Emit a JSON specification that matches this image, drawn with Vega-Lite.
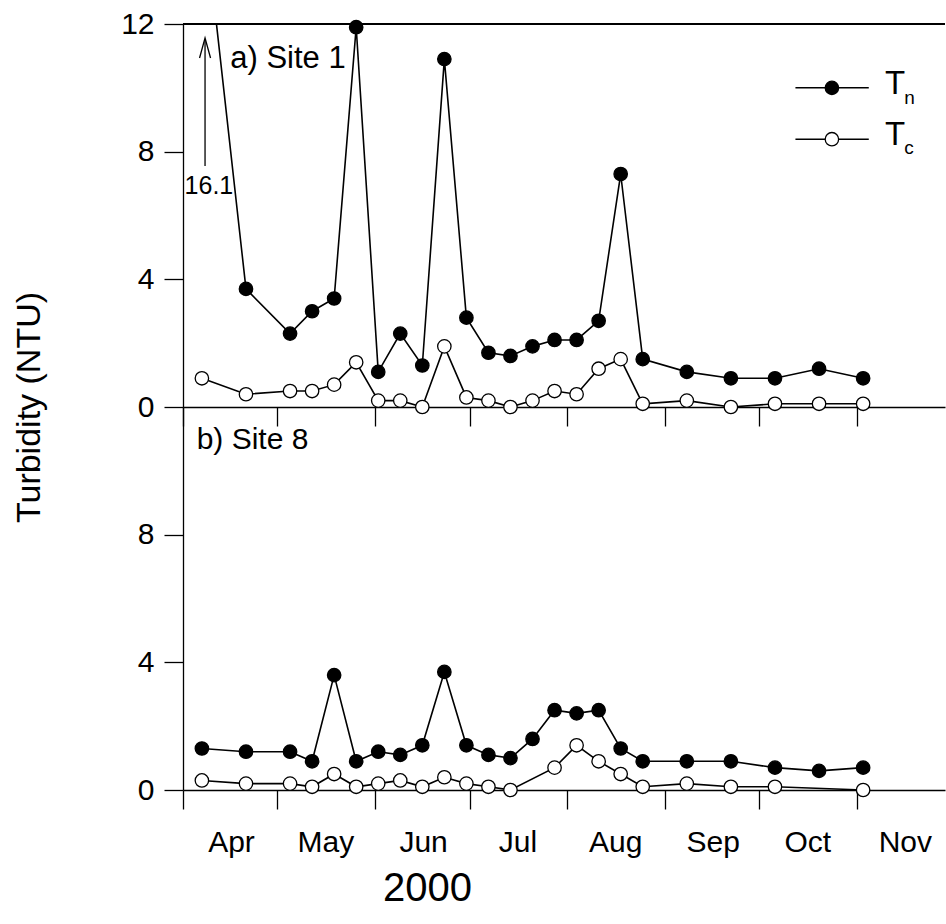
{
  "$schema": "https://vega.github.io/schema/vega-lite/v6.json",
  "background": "white",
  "padding": {"left": 12, "top": 9, "right": 0, "bottom": 5},
  "bounds": "flush",
  "spacing": 0,
  "config": {
    "font": "Liberation Sans",
    "view": {"stroke": null},
    "axis": {"domainColor": "black", "tickColor": "black", "labelColor": "black", "titleColor": "black", "domainWidth": 1.3, "tickWidth": 1.3, "grid": false, "labelFont": "Liberation Sans", "titleFont": "Liberation Sans", "titleFontWeight": "normal"}
  },
  "datasets": {
    "site1": [
      {"date": "2000-04-07", "series": "Tn", "value": 16.1}, {"date": "2000-04-21", "series": "Tn", "value": 3.7}, {"date": "2000-05-05", "series": "Tn", "value": 2.3}, {"date": "2000-05-12", "series": "Tn", "value": 3.0}, {"date": "2000-05-19", "series": "Tn", "value": 3.4}, {"date": "2000-05-26", "series": "Tn", "value": 11.9}, {"date": "2000-06-02", "series": "Tn", "value": 1.1}, {"date": "2000-06-09", "series": "Tn", "value": 2.3}, {"date": "2000-06-16", "series": "Tn", "value": 1.3}, {"date": "2000-06-23", "series": "Tn", "value": 10.9}, {"date": "2000-06-30", "series": "Tn", "value": 2.8}, {"date": "2000-07-07", "series": "Tn", "value": 1.7}, {"date": "2000-07-14", "series": "Tn", "value": 1.6}, {"date": "2000-07-21", "series": "Tn", "value": 1.9}, {"date": "2000-07-28", "series": "Tn", "value": 2.1}, {"date": "2000-08-04", "series": "Tn", "value": 2.1}, {"date": "2000-08-11", "series": "Tn", "value": 2.7}, {"date": "2000-08-18", "series": "Tn", "value": 7.3}, {"date": "2000-08-25", "series": "Tn", "value": 1.5}, {"date": "2000-09-08", "series": "Tn", "value": 1.1}, {"date": "2000-09-22", "series": "Tn", "value": 0.9}, {"date": "2000-10-06", "series": "Tn", "value": 0.9}, {"date": "2000-10-20", "series": "Tn", "value": 1.2}, {"date": "2000-11-03", "series": "Tn", "value": 0.9},
      {"date": "2000-04-07", "series": "Tc", "value": 0.9}, {"date": "2000-04-21", "series": "Tc", "value": 0.4}, {"date": "2000-05-05", "series": "Tc", "value": 0.5}, {"date": "2000-05-12", "series": "Tc", "value": 0.5}, {"date": "2000-05-19", "series": "Tc", "value": 0.7}, {"date": "2000-05-26", "series": "Tc", "value": 1.4}, {"date": "2000-06-02", "series": "Tc", "value": 0.2}, {"date": "2000-06-09", "series": "Tc", "value": 0.2}, {"date": "2000-06-16", "series": "Tc", "value": 0.0}, {"date": "2000-06-23", "series": "Tc", "value": 1.9}, {"date": "2000-06-30", "series": "Tc", "value": 0.3}, {"date": "2000-07-07", "series": "Tc", "value": 0.2}, {"date": "2000-07-14", "series": "Tc", "value": 0.0}, {"date": "2000-07-21", "series": "Tc", "value": 0.2}, {"date": "2000-07-28", "series": "Tc", "value": 0.5}, {"date": "2000-08-04", "series": "Tc", "value": 0.4}, {"date": "2000-08-11", "series": "Tc", "value": 1.2}, {"date": "2000-08-18", "series": "Tc", "value": 1.5}, {"date": "2000-08-25", "series": "Tc", "value": 0.1}, {"date": "2000-09-08", "series": "Tc", "value": 0.2}, {"date": "2000-09-22", "series": "Tc", "value": 0.0}, {"date": "2000-10-06", "series": "Tc", "value": 0.1}, {"date": "2000-10-20", "series": "Tc", "value": 0.1}, {"date": "2000-11-03", "series": "Tc", "value": 0.1}
    ],
    "site8": [
      {"date": "2000-04-07", "series": "Tn", "value": 1.3}, {"date": "2000-04-21", "series": "Tn", "value": 1.2}, {"date": "2000-05-05", "series": "Tn", "value": 1.2}, {"date": "2000-05-12", "series": "Tn", "value": 0.9}, {"date": "2000-05-19", "series": "Tn", "value": 3.6}, {"date": "2000-05-26", "series": "Tn", "value": 0.9}, {"date": "2000-06-02", "series": "Tn", "value": 1.2}, {"date": "2000-06-09", "series": "Tn", "value": 1.1}, {"date": "2000-06-16", "series": "Tn", "value": 1.4}, {"date": "2000-06-23", "series": "Tn", "value": 3.7}, {"date": "2000-06-30", "series": "Tn", "value": 1.4}, {"date": "2000-07-07", "series": "Tn", "value": 1.1}, {"date": "2000-07-14", "series": "Tn", "value": 1.0}, {"date": "2000-07-21", "series": "Tn", "value": 1.6}, {"date": "2000-07-28", "series": "Tn", "value": 2.5}, {"date": "2000-08-04", "series": "Tn", "value": 2.4}, {"date": "2000-08-11", "series": "Tn", "value": 2.5}, {"date": "2000-08-18", "series": "Tn", "value": 1.3}, {"date": "2000-08-25", "series": "Tn", "value": 0.9}, {"date": "2000-09-08", "series": "Tn", "value": 0.9}, {"date": "2000-09-22", "series": "Tn", "value": 0.9}, {"date": "2000-10-06", "series": "Tn", "value": 0.7}, {"date": "2000-10-20", "series": "Tn", "value": 0.6}, {"date": "2000-11-03", "series": "Tn", "value": 0.7},
      {"date": "2000-04-07", "series": "Tc", "value": 0.3}, {"date": "2000-04-21", "series": "Tc", "value": 0.2}, {"date": "2000-05-05", "series": "Tc", "value": 0.2}, {"date": "2000-05-12", "series": "Tc", "value": 0.1}, {"date": "2000-05-19", "series": "Tc", "value": 0.5}, {"date": "2000-05-26", "series": "Tc", "value": 0.1}, {"date": "2000-06-02", "series": "Tc", "value": 0.2}, {"date": "2000-06-09", "series": "Tc", "value": 0.3}, {"date": "2000-06-16", "series": "Tc", "value": 0.1}, {"date": "2000-06-23", "series": "Tc", "value": 0.4}, {"date": "2000-06-30", "series": "Tc", "value": 0.2}, {"date": "2000-07-07", "series": "Tc", "value": 0.1}, {"date": "2000-07-14", "series": "Tc", "value": 0.0}, {"date": "2000-07-28", "series": "Tc", "value": 0.7}, {"date": "2000-08-04", "series": "Tc", "value": 1.4}, {"date": "2000-08-11", "series": "Tc", "value": 0.9}, {"date": "2000-08-18", "series": "Tc", "value": 0.5}, {"date": "2000-08-25", "series": "Tc", "value": 0.1}, {"date": "2000-09-08", "series": "Tc", "value": 0.2}, {"date": "2000-09-22", "series": "Tc", "value": 0.1}, {"date": "2000-10-06", "series": "Tc", "value": 0.1}, {"date": "2000-11-03", "series": "Tc", "value": 0.0}
    ]
  },
  "vconcat": [
    {
      "width": 762,
      "height": 383,
      "data": {"name": "site1"},
      "layer": [
        {
          "mark": {"type": "rule", "color": "black", "strokeWidth": 1.3},
          "encoding": {"y": {"datum": 12, "type": "quantitative", "scale": {"domain": [0, 12], "nice": false}}}
        },
        {
          "mark": {"type": "line", "color": "black", "strokeWidth": 1.6, "clip": true},
          "encoding": {
            "x": {"field": "date", "type": "temporal",
              "scale": {"type": "utc", "domain": [{"year": 2000, "month": 4, "date": 1, "utc": true}, {"year": 2000, "month": 11, "date": 29, "utc": true}]},
              "axis": {"values": [{"year": 2000, "month": 4, "date": 1, "utc": true}, {"year": 2000, "month": 5, "date": 1, "utc": true}, {"year": 2000, "month": 6, "date": 1, "utc": true}, {"year": 2000, "month": 7, "date": 1, "utc": true}, {"year": 2000, "month": 8, "date": 1, "utc": true}, {"year": 2000, "month": 9, "date": 1, "utc": true}, {"year": 2000, "month": 10, "date": 1, "utc": true}, {"year": 2000, "month": 11, "date": 1, "utc": true}], "labels": false, "tickSize": 19, "title": null}},
            "y": {"field": "value", "type": "quantitative", "scale": {"domain": [0, 12], "nice": false},
              "axis": {"values": [0, 4, 8, 12], "tickSize": 19, "labelFontSize": 30, "labelPadding": 10, "title": "Turbidity (NTU)", "titleFontSize": 34, "titlePadding": 74, "titleY": 383}},
            "detail": {"field": "series"}
          }
        },
        {
          "transform": [{"filter": "datum.value <= 12"}],
          "mark": {"type": "point", "shape": "circle", "filled": true, "size": 180, "stroke": "black", "strokeWidth": 1.3, "opacity": 1},
          "encoding": {
            "x": {"field": "date", "type": "temporal"},
            "y": {"field": "value", "type": "quantitative"},
            "fill": {"field": "series", "type": "nominal", "scale": {"domain": ["Tn", "Tc"], "range": ["black", "white"]}, "legend": null}
          }
        },
        {
          "data": {"values": [{"t": "arrow"}]},
          "mark": {"type": "rule", "color": "black", "strokeWidth": 1.3},
          "encoding": {
            "x": {"datum": {"year": 2000, "month": 4, "date": 8, "utc": true}, "type": "temporal"},
            "y": {"datum": 7.55, "type": "quantitative"},
            "y2": {"datum": 11.5}
          }
        },
        {
          "data": {"values": [{"t": "arrow"}]},
          "mark": {"type": "point", "shape": "M-0.55,2L0,0L0.55,2", "size": 400, "filled": false, "stroke": "black", "strokeWidth": 1.3, "opacity": 1},
          "encoding": {
            "x": {"datum": {"year": 2000, "month": 4, "date": 8, "utc": true}, "type": "temporal"},
            "y": {"datum": 11.56, "type": "quantitative"}
          }
        },
        {
          "data": {"values": [{"t": "16.1"}]},
          "mark": {"type": "text", "align": "left", "baseline": "alphabetic", "fontSize": 25, "color": "black"},
          "encoding": {
            "x": {"datum": {"year": 2000, "month": 4, "date": 1, "hours": 12, "utc": true}, "type": "temporal"},
            "y": {"datum": 6.66, "type": "quantitative"},
            "text": {"field": "t"}
          }
        },
        {
          "data": {"values": [{"t": "a) Site 1"}]},
          "mark": {"type": "text", "align": "left", "baseline": "alphabetic", "fontSize": 31, "color": "black"},
          "encoding": {
            "x": {"datum": {"year": 2000, "month": 4, "date": 16, "utc": true}, "type": "temporal"},
            "y": {"datum": 10.61, "type": "quantitative"},
            "text": {"field": "t"}
          }
        },
        {
          "data": {"values": [{"series": "Tn"}]},
          "mark": {"type": "rule", "color": "black", "strokeWidth": 1.5},
          "encoding": {
            "x": {"datum": {"year": 2000, "month": 10, "date": 12, "hours": 12, "utc": true}, "type": "temporal"},
            "x2": {"datum": {"year": 2000, "month": 11, "date": 4, "hours": 19, "utc": true}},
            "y": {"datum": 10.0, "type": "quantitative"}
          }
        },
        {
          "data": {"values": [{"series": "Tc"}]},
          "mark": {"type": "rule", "color": "black", "strokeWidth": 1.5},
          "encoding": {
            "x": {"datum": {"year": 2000, "month": 10, "date": 12, "hours": 12, "utc": true}, "type": "temporal"},
            "x2": {"datum": {"year": 2000, "month": 11, "date": 4, "hours": 19, "utc": true}},
            "y": {"datum": 8.39, "type": "quantitative"}
          }
        },
        {
          "data": {"values": [{"series": "Tn"}]},
          "mark": {"type": "point", "shape": "circle", "filled": true, "size": 180, "stroke": "black", "strokeWidth": 1.3, "opacity": 1},
          "encoding": {
            "x": {"datum": {"year": 2000, "month": 10, "date": 24, "hours": 2, "utc": true}, "type": "temporal"},
            "y": {"datum": 10.0, "type": "quantitative"},
            "fill": {"field": "series", "type": "nominal", "legend": null}
          }
        },
        {
          "data": {"values": [{"series": "Tc"}]},
          "mark": {"type": "point", "shape": "circle", "filled": true, "size": 180, "stroke": "black", "strokeWidth": 1.3, "opacity": 1},
          "encoding": {
            "x": {"datum": {"year": 2000, "month": 10, "date": 24, "hours": 2, "utc": true}, "type": "temporal"},
            "y": {"datum": 8.39, "type": "quantitative"},
            "fill": {"field": "series", "type": "nominal", "legend": null}
          }
        },
        {
          "data": {"values": [{"t": "T"}]},
          "mark": {"type": "text", "align": "left", "baseline": "alphabetic", "fontSize": 33, "color": "black"},
          "encoding": {
            "x": {"datum": {"year": 2000, "month": 11, "date": 9, "hours": 22, "utc": true}, "type": "temporal"},
            "y": {"datum": 9.8, "type": "quantitative"},
            "text": {"field": "t"}
          }
        },
        {
          "data": {"values": [{"t": "n"}]},
          "mark": {"type": "text", "align": "left", "baseline": "alphabetic", "fontSize": 19, "color": "black"},
          "encoding": {
            "x": {"datum": {"year": 2000, "month": 11, "date": 16, "hours": 2, "utc": true}, "type": "temporal"},
            "y": {"datum": 9.48, "type": "quantitative"},
            "text": {"field": "t"}
          }
        },
        {
          "data": {"values": [{"t": "T"}]},
          "mark": {"type": "text", "align": "left", "baseline": "alphabetic", "fontSize": 33, "color": "black"},
          "encoding": {
            "x": {"datum": {"year": 2000, "month": 11, "date": 9, "hours": 22, "utc": true}, "type": "temporal"},
            "y": {"datum": 8.21, "type": "quantitative"},
            "text": {"field": "t"}
          }
        },
        {
          "data": {"values": [{"t": "c"}]},
          "mark": {"type": "text", "align": "left", "baseline": "alphabetic", "fontSize": 19, "color": "black"},
          "encoding": {
            "x": {"datum": {"year": 2000, "month": 11, "date": 16, "hours": 2, "utc": true}, "type": "temporal"},
            "y": {"datum": 7.92, "type": "quantitative"},
            "text": {"field": "t"}
          }
        }
      ]
    },
    {
      "width": 762,
      "height": 383,
      "data": {"name": "site8"},
      "layer": [
        {
          "mark": {"type": "line", "color": "black", "strokeWidth": 1.6},
          "encoding": {
            "x": {"field": "date", "type": "temporal",
              "scale": {"type": "utc", "domain": [{"year": 2000, "month": 4, "date": 1, "utc": true}, {"year": 2000, "month": 11, "date": 29, "utc": true}]},
              "axis": {"values": [{"year": 2000, "month": 4, "date": 1, "utc": true}, {"year": 2000, "month": 5, "date": 1, "utc": true}, {"year": 2000, "month": 6, "date": 1, "utc": true}, {"year": 2000, "month": 7, "date": 1, "utc": true}, {"year": 2000, "month": 8, "date": 1, "utc": true}, {"year": 2000, "month": 9, "date": 1, "utc": true}, {"year": 2000, "month": 10, "date": 1, "utc": true}, {"year": 2000, "month": 11, "date": 1, "utc": true}], "format": "%b", "labelOffset": 48, "labelFlush": false, "labelOverlap": false, "labelBound": false, "labelFontSize": 30, "labelPadding": 18, "tickSize": 19, "title": "2000", "titleFontSize": 40, "titlePadding": 11, "titleX": 244, "titleAlign": "center"}},
            "y": {"field": "value", "type": "quantitative", "scale": {"domain": [0, 12], "nice": false},
              "axis": {"values": [0, 4, 8], "tickSize": 19, "labelFontSize": 30, "labelPadding": 10, "title": null}},
            "detail": {"field": "series"}
          }
        },
        {
          "mark": {"type": "point", "shape": "circle", "filled": true, "size": 180, "stroke": "black", "strokeWidth": 1.3, "opacity": 1},
          "encoding": {
            "x": {"field": "date", "type": "temporal"},
            "y": {"field": "value", "type": "quantitative"},
            "fill": {"field": "series", "type": "nominal", "scale": {"domain": ["Tn", "Tc"], "range": ["black", "white"]}, "legend": null}
          }
        },
        {
          "data": {"values": [{"t": "b) Site 8"}]},
          "mark": {"type": "text", "align": "left", "baseline": "alphabetic", "fontSize": 30, "color": "black"},
          "encoding": {
            "x": {"datum": {"year": 2000, "month": 4, "date": 5, "hours": 8, "utc": true}, "type": "temporal"},
            "y": {"datum": 10.67, "type": "quantitative"},
            "text": {"field": "t"}
          }
        }
      ]
    }
  ]
}
